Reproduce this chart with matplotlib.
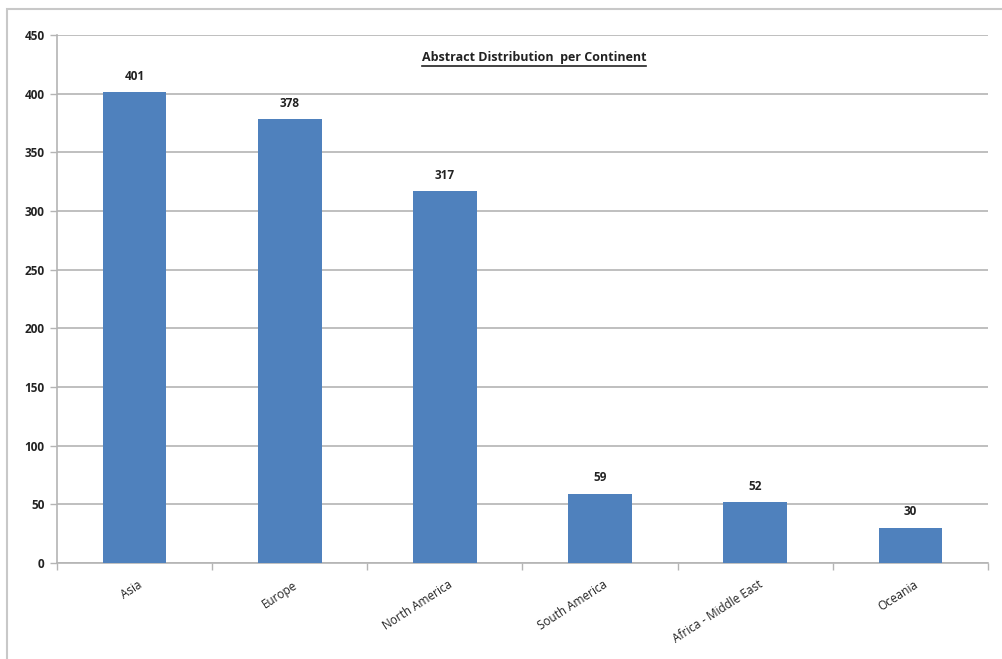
import matplotlib.pyplot as plt
from matplotlib.patches import Rectangle
from matplotlib.lines import Line2D
import numpy as np

continents = ["Asia", "Europe", "North America", "South America",
              "Africa - Middle East", "Oceania"]
abstracts = [401, 378, 317, 59, 52, 30]
y_ticks = [0, 50, 100, 150, 200, 250, 300, 350, 400, 450]
title = "Abstract Distribution  per Continent"

plt.rcParams['font.family'] = ['Open Sans', 'DejaVu Sans']

W, H = 1003, 659
fig = plt.figure(figsize=(W / 100, H / 100), dpi=100)
fig.patch.set_facecolor("white")

# outer chart frame
fig.patches.append(Rectangle((7 / W, -0.05), 1.1, 1 - 9 / H + 0.05,
                             transform=fig.transFigure, fill=False,
                             edgecolor="#c8c8c8", linewidth=1.5))

ax = fig.add_axes([57 / W, 1 - 563 / H, (988 - 57) / W, (563 - 35) / H])
x = np.arange(len(continents))
bars = ax.bar(x, abstracts, width=0.41, color="#4f81bd", zorder=3)

ax.set_xlim(-0.5, len(continents) - 0.5)
ax.set_ylim(0, 450)
ax.set_yticks(y_ticks)
ax.set_yticklabels([str(v) for v in y_ticks], fontsize=8.5,
                   fontweight="bold", color="#222222")
ax.grid(axis="y", color="#b4b4b4", linewidth=1.2, zorder=0)
ax.tick_params(axis="y", length=5, width=1, color="#b4b4b4", pad=4)

# category boundaries as ticks, labels at centres
ax.set_xticks(np.arange(len(continents) + 1) - 0.5)
ax.set_xticklabels([])
ax.tick_params(axis="x", length=5, width=1, color="#b4b4b4")
for xi, name in zip(x, continents):
    ax.text(xi + 0.02, -13, name, rotation=33, ha="right", va="top",
            rotation_mode="anchor", fontsize=8.5, color="#222222")

for s in ["top", "right"]:
    ax.spines[s].set_visible(False)
for s in ["left", "bottom"]:
    ax.spines[s].set_color("#b4b4b4")
    ax.spines[s].set_linewidth(1.2)

for b, v in zip(bars, abstracts):
    ax.text(b.get_x() + b.get_width() / 2, v + 8, str(v), ha="center",
            va="bottom", fontsize=8.5, fontweight="bold", color="#222222")

t = fig.text(534 / W, 1 - 58 / H, title, ha="center", va="center",
             fontsize=9, fontweight="bold", color="#222222")

# underline the title
fig.canvas.draw()
bb = t.get_window_extent().transformed(fig.transFigure.inverted())
fig.lines.append(Line2D([bb.x0, bb.x1], [bb.y0 - 1 / H, bb.y0 - 1 / H],
                        transform=fig.transFigure, color="#222222",
                        linewidth=1.2))

fig.savefig("out.png", dpi=100)
